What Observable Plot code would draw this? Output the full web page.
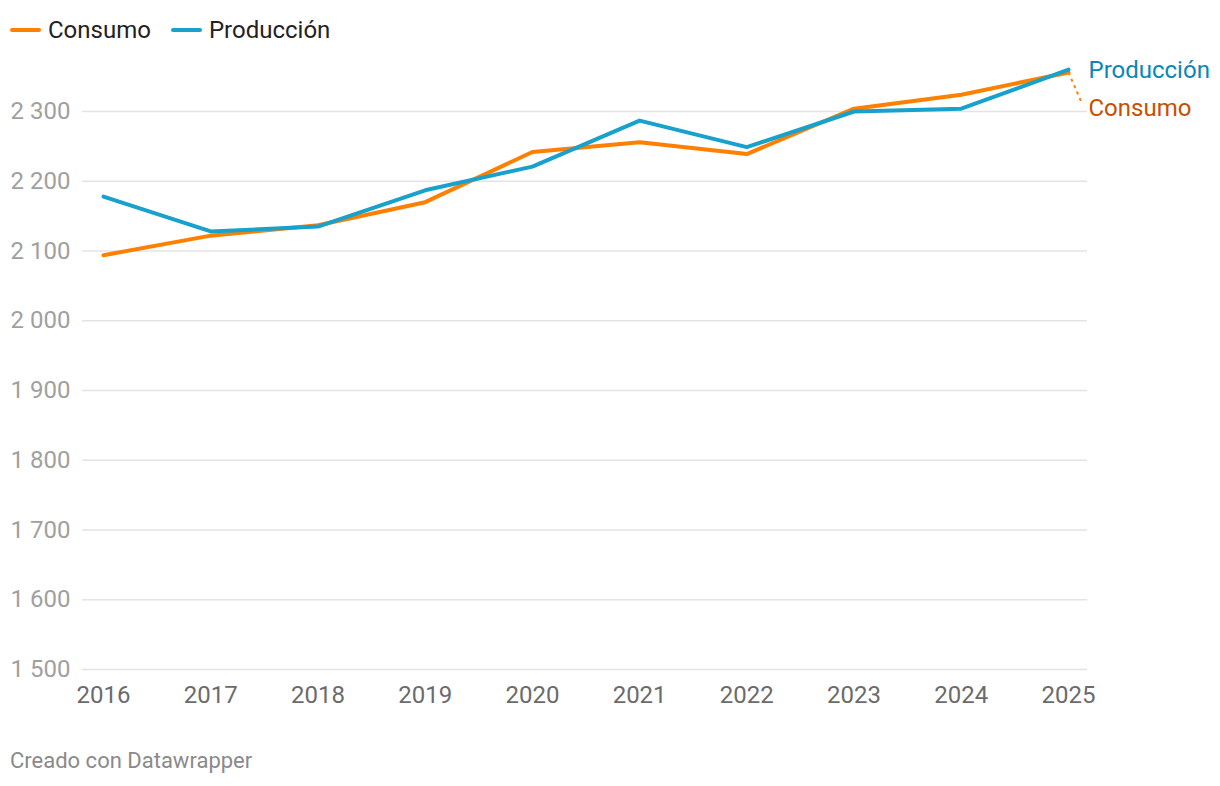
<!DOCTYPE html>
<html>
<head>
<meta charset="utf-8">
<script src="https://cdn.jsdelivr.net/npm/d3@7"></script>
<script src="https://cdn.jsdelivr.net/npm/@observablehq/plot@0.6"></script>
<style>
  html, body { margin: 0; padding: 0; background: #fff; }
  body { width: 1220px; height: 786px; position: relative; font-family: Roboto, "Noto Sans", sans-serif; overflow: hidden; }
  #legend { position: absolute; left: 10px; top: 16px; display: flex; align-items: center; font-size: 24px; color: #222; }
  .item { display: flex; align-items: center; margin-right: 20px; }
  .sw { width: 31px; height: 4px; border-radius: 2px; margin-right: 7px; }
  #chart { position: absolute; left: 0; top: 50px; }
  #caption { position: absolute; left: 10px; top: 748px; font-size: 22px; color: #8a8a8a; }
</style>
</head>
<body>
<div id="legend"></div>
<div id="chart"></div>
<div id="caption">Creado con Datawrapper</div>
<script>
const years = [2016, 2017, 2018, 2019, 2020, 2021, 2022, 2023, 2024, 2025];
const consumo = [2094, 2122, 2137, 2170, 2242, 2256, 2239, 2304, 2324, 2356];
const produccion = [2178, 2128, 2135, 2187, 2221, 2287, 2249, 2300, 2304, 2360];
const yTicks = [1500, 1600, 1700, 1800, 1900, 2000, 2100, 2200, 2300];
const seriesNames = ["Consumo", "Producción"];
const seriesColors = ["#ff8000", "#18a1cd"];
const labelColors = ["#c75000", "#0b87b3"];

const W = 1220, H = 690, ML = 103, MR = 152, MT = 61, MB = 71;

const fmt = d3.formatLocale({thousands: " ", grouping: [3], decimal: ",", currency: ["", ""]}).format(",d");

const rows = [];
years.forEach((y, i) => {
  rows.push({year: y, value: consumo[i], serie: seriesNames[0]});
  rows.push({year: y, value: produccion[i], serie: seriesNames[1]});
});

const legend = document.getElementById("legend");
seriesNames.forEach((n, i) => {
  const it = document.createElement("div");
  it.className = "item";
  it.innerHTML = `<span class="sw" style="background:${seriesColors[i]}"></span><span>${n}</span>`;
  legend.appendChild(it);
});

const last = years.length - 1;
const x0 = years[0], x1 = years[last];
const pxPerYear = (W - ML - MR) / (x1 - x0);
const pxPerUnit = (H - MT - MB) / (yTicks[yTicks.length - 1] - yTicks[0]);
// connector from consumo end to its label (offset in pixels converted to data units)
const conn = [{
  x1: x1, y1: consumo[last],
  x2: x1 + 14 / pxPerYear, y2: produccion[last] - 35 / pxPerUnit
}];

const plot = Plot.plot({
  width: W, height: H,
  marginLeft: ML, marginRight: MR, marginTop: MT, marginBottom: MB,
  style: {fontFamily: "Roboto, sans-serif", background: "transparent"},
  x: {domain: [x0, x1], axis: null},
  y: {domain: [yTicks[0], yTicks[yTicks.length - 1]], axis: null},
  color: {domain: seriesNames, range: seriesColors},
  marks: [
    Plot.ruleY(yTicks, {stroke: "#e3e3e3", strokeWidth: 1.5, insetLeft: -21, insetRight: -19}),
    Plot.text(yTicks, {y: d => d, text: d => fmt(d), frameAnchor: "left", dx: -93, textAnchor: "start", fontSize: 24, fill: "#a0a0a0"}),
    Plot.text(years, {x: d => d, text: d => String(d), frameAnchor: "bottom", dy: 33, fontSize: 24, fill: "#6b6b6b"}),
    Plot.link(conn, {x1: "x1", y1: "y1", x2: "x2", y2: "y2", stroke: seriesColors[0], strokeWidth: 2, strokeDasharray: "3,4"}),
    Plot.line(rows, {x: "year", y: "value", z: "serie", stroke: "serie", strokeWidth: 4, strokeLinejoin: "round", strokeLinecap: "round"}),
    Plot.text([produccion[last]], {x: () => x1, y: d => d, text: () => seriesNames[1], dx: 20, dy: 1, textAnchor: "start", fontSize: 24, fill: labelColors[1]}),
    Plot.text([produccion[last]], {x: () => x1, y: d => d, text: () => seriesNames[0], dx: 20, dy: 39, textAnchor: "start", fontSize: 24, fill: labelColors[0]})
  ]
});
document.getElementById("chart").appendChild(plot);
</script>
</body>
</html>
